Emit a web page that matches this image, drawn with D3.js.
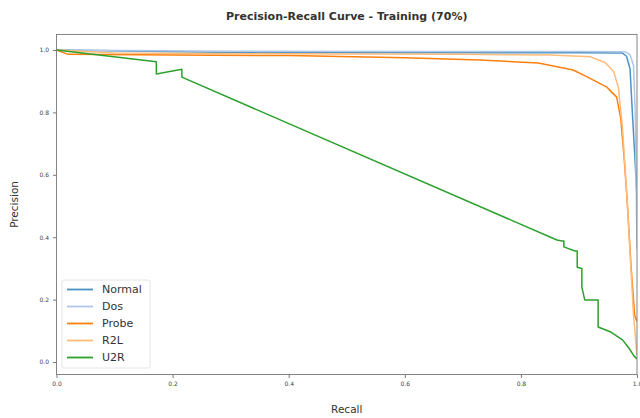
<!DOCTYPE html>
<html>
<head>
<meta charset="utf-8">
<script src="https://cdn.jsdelivr.net/npm/d3@7"></script>
<style>
  html, body { margin: 0; padding: 0; background: #fff; }
  svg { display: block; font-family: "DejaVu Sans", sans-serif; }
</style>
</head>
<body>
<svg id="chart" width="640" height="418"></svg>
<script>
// ---- data ----
const titleText = "Precision-Recall Curve - Training (70%)";
const xLabel = "Recall";
const yLabel = "Precision";
const xTicks = [0, 0.2, 0.4, 0.6, 0.8, 1.0];
const xTickLabels = ["0.0", "0.2", "0.4", "0.6", "0.8", "1.0"];
const yTicks = [0, 0.2, 0.4, 0.6, 0.8, 1.0];
const yTickLabels = ["0.0", "0.2", "0.4", "0.6", "0.8", "1.0"];

const seriesNames = ["Normal", "Dos", "Probe", "R2L", "U2R"];

const normalRecall    = [0, 0.3, 0.6, 0.9, 0.975, 0.982, 0.988, 0.992, 0.995, 0.998, 1.0];
const normalPrecision = [1.0, 0.992, 0.991, 0.991, 0.990, 0.98, 0.94, 0.80, 0.70, 0.60, 0.53];

const dosRecall    = [0, 0.3, 0.6, 0.9, 0.98, 0.988, 0.994, 0.997, 1.0];
const dosPrecision = [1.0, 0.996, 0.995, 0.995, 0.994, 0.985, 0.95, 0.80, 0.36];

const probeRecall    = [0, 0.02, 0.2, 0.4, 0.6, 0.73, 0.83, 0.89, 0.915, 0.948, 0.965, 0.972, 0.978, 0.983, 0.99, 0.996, 1.0];
const probePrecision = [1.0, 0.986, 0.984, 0.982, 0.975, 0.968, 0.958, 0.936, 0.913, 0.881, 0.849, 0.78, 0.65, 0.52, 0.30, 0.15, 0.13];

const r2lRecall    = [0, 0.1, 0.4, 0.7, 0.85, 0.92, 0.945, 0.96, 0.968, 0.975, 0.982, 0.988, 0.994, 1.0];
const r2lPrecision = [1.0, 0.99, 0.988, 0.986, 0.984, 0.978, 0.96, 0.93, 0.88, 0.75, 0.55, 0.35, 0.15, 0.02];

const u2rRecall    = [0, 0.172, 0.172, 0.216, 0.216, 0.862, 0.871, 0.874, 0.874, 0.893, 0.897, 0.897, 0.905, 0.905, 0.910, 0.933, 0.933, 0.955, 0.975, 0.986, 0.995, 1.0];
const u2rPrecision = [1.0, 0.962, 0.923, 0.938, 0.913, 0.391, 0.388, 0.388, 0.369, 0.356, 0.356, 0.304, 0.300, 0.240, 0.199, 0.199, 0.112, 0.096, 0.071, 0.045, 0.019, 0.010];

const seriesColors = ["#1f77b4", "#aec7e8", "#ff7f0e", "#ffbb78", "#2ca02c"];

// ---- build ----
const series = [
  { name: seriesNames[0], r: normalRecall, p: normalPrecision },
  { name: seriesNames[1], r: dosRecall, p: dosPrecision },
  { name: seriesNames[2], r: probeRecall, p: probePrecision },
  { name: seriesNames[3], r: r2lRecall, p: r2lPrecision },
  { name: seriesNames[4], r: u2rRecall, p: u2rPrecision }
].map((s, i) => ({ name: s.name, color: seriesColors[i], pts: s.r.map((v, j) => [v, s.p[j]]) }));

const svg = d3.select("#chart");
const L = 56.5, R = 637, T = 34.4, B = 374.5;

const x = d3.scaleLinear().domain([0, 1]).range([L, R]);
const y = d3.scaleLinear().domain([-0.04, 1.05]).range([B, T]);

// axes
const xAxis = d3.axisBottom(x).tickValues(xTicks).tickFormat((d, i) => xTickLabels[i]).tickSize(3.5).tickPadding(4);
const yAxis = d3.axisLeft(y).tickValues(yTicks).tickFormat((d, i) => yTickLabels[i]).tickSize(3.5).tickPadding(4);

const gx = svg.append("g").attr("transform", `translate(0,${B})`).call(xAxis);
const gy = svg.append("g").attr("transform", `translate(${L},0)`).call(yAxis);
[gx, gy].forEach(g => {
  g.select(".domain").remove();
  g.selectAll(".tick line").attr("stroke", "#555").attr("stroke-width", 0.8);
  g.selectAll(".tick text").attr("fill", "#444").style("font-size", "6px").style("font-family", "DejaVu Sans");
});

// lines
const line = d3.line().x(d => x(d[0])).y(d => y(d[1]));
svg.append("clipPath").attr("id", "clip").append("rect")
  .attr("x", L).attr("y", T).attr("width", R - L).attr("height", B - T);
const lg = svg.append("g").attr("clip-path", "url(#clip)");
series.forEach(s => {
  lg.append("path").datum(s.pts)
    .attr("d", line)
    .attr("fill", "none")
    .attr("stroke", s.color)
    .attr("stroke-width", 1.5)
    .attr("stroke-linejoin", "round")
    .attr("opacity", s.name === "Normal" ? 0.8 : 1);
});

// frame
svg.append("rect").attr("x", L).attr("y", T).attr("width", R - L).attr("height", B - T)
  .attr("fill", "none").attr("stroke", "#777").attr("stroke-width", 0.9);

// title & labels
svg.append("text").attr("x", (L + R) / 2).attr("y", 20).attr("text-anchor", "middle")
  .style("font-size", "11px").style("font-weight", "bold").attr("fill", "#333").text(titleText);
svg.append("text").attr("x", (L + R) / 2).attr("y", 413).attr("text-anchor", "middle")
  .style("font-size", "10.5px").attr("fill", "#333").text(xLabel);
svg.append("text").attr("transform", `translate(18,${(T + B) / 2}) rotate(-90)`).attr("text-anchor", "middle")
  .style("font-size", "10.5px").attr("fill", "#333").text(yLabel);

// legend
const leg = svg.append("g").attr("transform", "translate(62,280)");
leg.append("rect").attr("x", 0).attr("y", 0).attr("width", 88).attr("height", 88).attr("rx", 2)
  .attr("fill", "#fff").attr("fill-opacity", 0.8).attr("stroke", "#ddd").attr("stroke-width", 0.8);
series.forEach((s, i) => {
  const yy = 9.5 + i * 17;
  leg.append("line").attr("x1", 5).attr("x2", 31).attr("y1", yy).attr("y2", yy)
    .attr("stroke", s.color).attr("stroke-width", 1.8).attr("opacity", s.name === "Normal" ? 0.8 : 1);
  leg.append("text").attr("x", 40).attr("y", yy + 3.8).style("font-size", "11px").attr("fill", "#333").text(s.name);
});
</script>
</body>
</html>
